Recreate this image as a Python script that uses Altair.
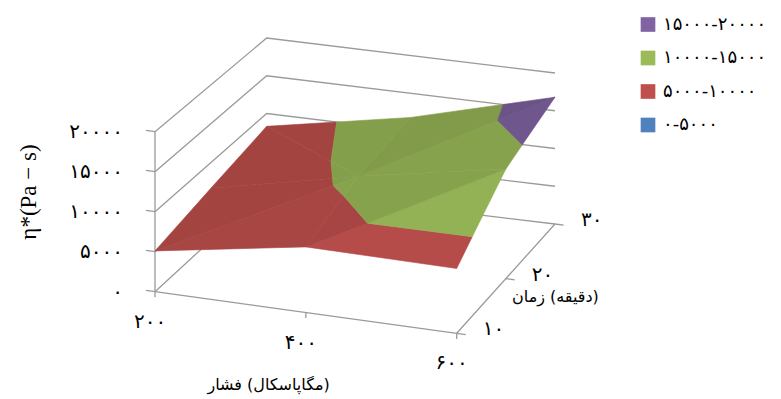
import altair as alt
import numpy as np
import pandas as pd

# ---- data ---------------------------------------------------------------
pressures = [200, 400, 600]            # pressure (MPa)
times = [10, 20, 30]                   # time (min)
# complex viscosity eta* (Pa.s) for each time, ordered by pressure
eta_t10 = [5100, 8200, 8100]
eta_t20 = [6700, 10700, 14100]
eta_t30 = [8300, 11800, 16800]

value_ticks = [0, 5000, 10000, 15000, 20000]
value_labels = ["۰", "۵۰۰۰", "۱۰۰۰۰", "۱۵۰۰۰", "۲۰۰۰۰"]
pressure_labels = ["۲۰۰", "۴۰۰", "۶۰۰"]
time_labels = ["۱۰", "۲۰", "۳۰"]

band_edges = [0, 5000, 10000, 15000, 20000]
band_labels = ["۰-۵۰۰۰", "۵۰۰۰-۱۰۰۰۰", "۱۰۰۰۰-۱۵۰۰۰", "۱۵۰۰۰-۲۰۰۰۰"]
band_colors = ["#4F81BD", "#C0504D", "#9BBB59", "#8064A2"]

# axis titles, each as (word, unit in brackets)
pressure_title = ["فشار", "(مگاپاسکال)"]
time_title = ["زمان", "(دقیقه)"]
value_title = "η*(Pa − s)"

# ---- camera ---------------------------------------------------------------
W, H = 781, 399
P0, P1 = pressures[0], pressures[-1]
T0, T1 = times[0], times[-1]
VMAX = value_ticks[-1]
# floor corners on screen: front-left, front-right, back-left, back-right
CORNER_X = (155.0, 456.7, 266.7, 555.0)
CORNER_Y = (291.7, 333.3, 189.0, 224.0)
# screen height of the full value range above each corner
CORNER_H = (160.0, 160.0, 151.0, 151.0)

FONT = "DejaVu Sans"
SERIF = "Liberation Serif, DejaVu Serif, serif"
GRID = "#9A9A9A"


def bilerp(c):
    return (f"(1-datum.u)*(1-datum.w)*{c[0]}+datum.u*(1-datum.w)*{c[1]}"
            f"+(1-datum.u)*datum.w*{c[2]}+datum.u*datum.w*{c[3]}")


def projected(base):
    return base.transform_calculate(
        u=f"(datum.p-{P0})/{P1 - P0}",
        w=f"(datum.t-{T0})/{T1 - T0}",
    ).transform_calculate(
        sx=bilerp(CORNER_X),
        sy=f"{bilerp(CORNER_Y)}-datum.v/{VMAX}*({bilerp(CORNER_H)})",
    )


def xs(field):
    return alt.X(field, scale=alt.Scale(domain=[0, W], nice=False, zero=False), axis=None)


def ys(field):
    return alt.Y(field, scale=alt.Scale(domain=[0, H], nice=False, zero=False, reverse=True), axis=None)


X, Y = xs("sx:Q"), ys("sy:Q")

# ---- walls, floor edges and ticks -----------------------------------------
dp = 0.03 * (P1 - P0)
lines = []


def add_line(gid, pts):
    for k, (p, t, v) in enumerate(pts):
        lines.append(dict(gid=gid, k=k, p=p, t=t, v=v))


for i, v in enumerate(value_ticks):
    add_line(f"grid{i}", [(P0, T0, v), (P0, T1, v), (P1, T1, v)])
    add_line(f"vtick{i}", [(P0 - dp, T0, v), (P0, T0, v)])
add_line("vaxis", [(P0, T0, 0), (P0, T0, VMAX)])
add_line("paxis", [(P0, T0, 0), (P1, T0, 0)])
add_line("taxis", [(P1, T0, 0), (P1, T1, 0)])
for i, p in enumerate(pressures):
    add_line(f"ptick{i}", [(p, T0, 0), (p, T0, -0.035 * VMAX)])
for i, t in enumerate(times):
    add_line(f"ttick{i}", [(P1, t, 0), (P1 + dp, t, 0)])

frame = projected(alt.Chart(pd.DataFrame(lines))).mark_line(
    color=GRID, strokeWidth=1.3
).encode(x=X, y=Y, detail="gid:N", order="k:Q")

# ---- surface: triangulated grid cut into value bands ------------------------
grid = np.array([eta_t10, eta_t20, eta_t30], dtype=float)  # [time, pressure]


def vert(i, j):
    return (float(pressures[i]), float(times[j]), grid[j, i])


def cut(pts, keep, level):
    out = []
    for a in range(len(pts)):
        P, Q = pts[a], pts[(a + 1) % len(pts)]
        inP, inQ = keep(P[2]), keep(Q[2])
        if inP:
            out.append(P)
        if inP != inQ:
            s = (level - P[2]) / (Q[2] - P[2])
            out.append(tuple(P[m] + s * (Q[m] - P[m]) for m in range(3)))
    return out


def shade(hex_color, f):
    rgb = [int(hex_color[i:i + 2], 16) for i in (1, 3, 5)]
    return "#" + "".join(f"{min(255, max(0, round(c * f))):02X}" for c in rgb)


triangles = []
for j in range(len(times) - 1):
    for i in range(len(pressures) - 1):
        c00, c10, c01, c11 = (i, j), (i + 1, j), (i, j + 1), (i + 1, j + 1)
        g = lambda c: grid[c[1], c[0]]
        if g(c00) + g(c11) >= g(c10) + g(c01):
            tris = [(c00, c10, c11), (c00, c11, c01)]
        else:
            tris = [(c00, c10, c01), (c10, c11, c01)]
        triangles.extend(tris)

poly_rows = []
pid = 0
for tri in triangles:
    # plane slope in index units (thousands per grid step) for the lighting
    A = np.array([[1, c[0], c[1]] for c in tri], dtype=float)
    b = np.array([grid[c[1], c[0]] / 1000 for c in tri])
    _, gu, gw = np.linalg.solve(A, b)
    light = float(np.clip(0.877 - 0.012 * gu + 0.012 * gw, 0.7, 1.0))
    pts = [vert(*c) for c in tri]
    for bi in range(len(band_edges) - 1):
        lo, hi = band_edges[bi], band_edges[bi + 1]
        part = cut(pts, lambda z: z >= lo, lo)
        if part:
            part = cut(part, lambda z: z <= hi, hi)
        if len(part) < 3:
            continue
        col = shade(band_colors[bi], light)
        for k, (p, t, v) in enumerate(part):
            poly_rows.append(dict(pid=pid, k=k, p=p, t=t, v=v, col=col))
        pid += 1

surface = projected(alt.Chart(pd.DataFrame(poly_rows))).mark_line(
    interpolate="linear-closed", strokeWidth=0.6, strokeJoin="round"
).encode(
    x=X, y=Y,
    fill=alt.Fill("col:N", scale=None),
    stroke=alt.Stroke("col:N", scale=None),
    detail="pid:N",
    order="k:Q",
)

# ---- axis labels ----------------------------------------------------------
txt = dict(font=FONT, fontSize=20, color="#000000", baseline="middle", dir="ltr")

vlab = projected(alt.Chart(pd.DataFrame(
    dict(p=P0, t=T0, v=value_ticks, label=value_labels)
))).mark_text(align="right", dx=-32, **txt).encode(x=X, y=Y, text="label:N")

plab = projected(alt.Chart(pd.DataFrame(
    dict(p=pressures, t=T0, v=0, label=pressure_labels)
))).mark_text(align="center", dx=-5, dy=30, **txt).encode(x=X, y=Y, text="label:N")

tlab = projected(alt.Chart(pd.DataFrame(
    dict(p=P1, t=times, v=0, label=time_labels)
))).mark_text(align="left", dx=26, dy=-4, **txt).encode(x=X, y=Y, text="label:N")

# the word sits left of its bracketed unit
ttl = dict(font=FONT, fontSize=16, color="#000000", baseline="middle", dir="ltr")
title_words = pd.DataFrame(dict(
    label=[pressure_title[0], time_title[0]], tx=[242, 545], ty=[385, 297]))
title_units = pd.DataFrame(dict(
    label=[pressure_title[1], time_title[1]], tx=[247, 550], ty=[385, 297]))
words = alt.Chart(title_words).mark_text(align="right", **ttl).encode(
    x=xs("tx:Q"), y=ys("ty:Q"), text="label:N")
units = alt.Chart(title_units).mark_text(align="left", **ttl).encode(
    x=xs("tx:Q"), y=ys("ty:Q"), text="label:N")

ytitle = alt.Chart(pd.DataFrame(dict(label=[value_title]))).mark_text(
    angle=270, align="center", baseline="middle", dir="ltr",
    font=SERIF, fontSize=23, color="#000000",
).encode(x=alt.value(29), y=alt.value(192), text="label:N")

# ---- legend ---------------------------------------------------------------
legend_df = pd.DataFrame(dict(
    label=band_labels[::-1], col=band_colors[::-1], idx=list(range(len(band_labels)))
))
legend_base = alt.Chart(legend_df).transform_calculate(ly="24.5 + 33.5*datum.idx")
legend_sq = legend_base.mark_square(size=215, opacity=1).encode(
    x=alt.value(648), y=ys("ly:Q"), fill=alt.Fill("col:N", scale=None), stroke=alt.value(None)
)
legend_tx = legend_base.mark_text(align="left", font=FONT, fontSize=18, dir="ltr",
                                  color="#000000", baseline="middle").encode(
    x=alt.value(663), y=ys("ly:Q"), text="label:N"
)

chart = alt.layer(
    frame, surface, vlab, plab, tlab, words, units, ytitle, legend_sq, legend_tx
).properties(
    width=W, height=H, padding=0, autosize="none", background="white"
).configure_view(stroke=None)

chart.save("out.html", embed_options={"renderer": "svg", "actions": False})
